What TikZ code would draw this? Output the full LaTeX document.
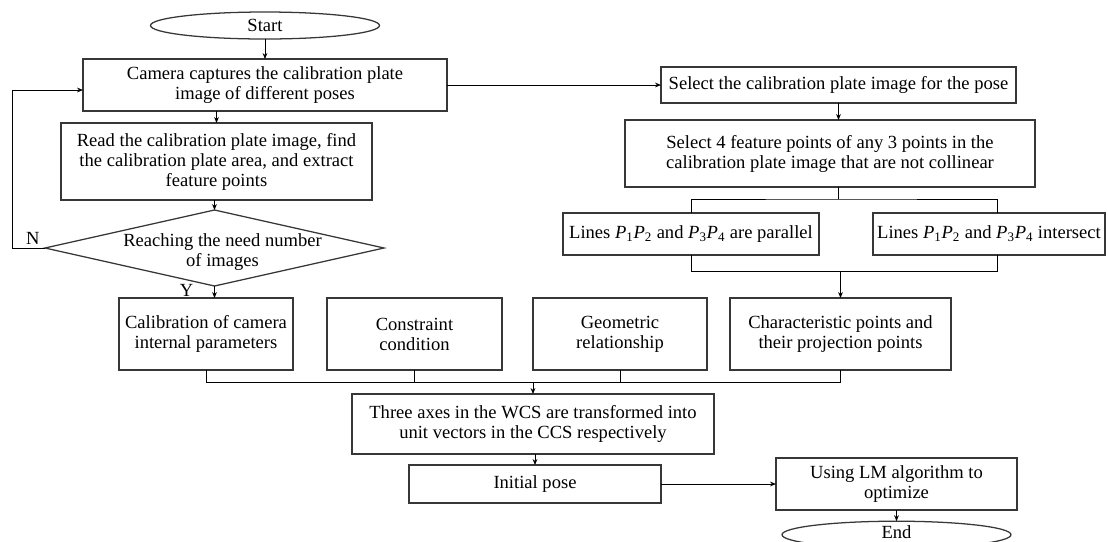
\documentclass[tikz,border=0pt]{standalone}
\usepackage{fontspec}
\setmainfont{Liberation Serif}
\usepackage{tikz}
\usetikzlibrary{arrows.meta}
\usetikzlibrary{positioning}
\usetikzlibrary{shapes.geometric}
\usepackage{xcolor}
\definecolor{boxgray}{RGB}{55,55,55}

\begin{document}
\begin{tikzpicture}[font=\fontsize{13.2}{14.2}\selectfont]
	
		\tikzstyle{block} = [rectangle, draw=boxgray, line width=0.9pt, fill=white, text centered, align=center, inner sep=2pt, outer sep=0pt]
		\tikzstyle{terminal} = [ellipse, draw=boxgray, line width=0.9pt, minimum width=5.725cm, minimum height=0.675cm, inner sep=0pt, outer sep=0pt]
		\tikzstyle{decision} = [diamond, draw=boxgray, line width=0.9pt, inner sep=0pt, outer sep=0pt]
		\tikzstyle{line} = [draw, line width=0.7pt, -{Stealth[length=1.5mm,width=1.2mm]}]
		\tikzstyle{plain} = [draw, line width=0.7pt]
		
		\useasboundingbox (-6.625,0.6375) rectangle (21.075,-12.8875);
	
		% left column
		\node [terminal] (start) {Start};
		\node [block,below=0.5cm of start.south,minimum width=9.1cm,minimum height=1.3cm] (camera) {Camera captures the calibration plate\\image of different poses};
		\node [block,below=0.3cm of camera.south,xshift=-1.2125cm,minimum width=7.775cm,minimum height=1.925cm] (read) {Read the calibration plate image, find\\the calibration plate area, and extract\\feature points};
		\node [decision,below=0.25cm of read.south,xshift=-0.05cm,minimum width=8.475cm,minimum height=1.9cm,label={[align=center,xshift=0.2cm,yshift=-0.1cm]center:Reaching the need number\\of images}] (reach) {};
		\node [above left=0.09cm and 0.13cm of reach.west,inner sep=0pt] (nlab) {N};
		\node [left=0.525cm of reach.south,yshift=-0.1cm,inner sep=0pt] (ylab) {Y};
		
		% right column
		\node [block,right=5.35cm of camera.east,minimum width=8.875cm,minimum height=0.9cm] (select) {Select the calibration plate image for the pose};
		\node [block,below=0.425cm of select.south,xshift=-0.2125cm,minimum width=10.25cm,minimum height=1.675cm] (select4) {Select 4 feature points of any 3 points in the\\calibration plate image that are not collinear};
		\node [block,below=0.65cm of select4.south,xshift=-3.475cm,minimum width=6.4cm,minimum height=1.05cm] (parallel) {Lines \textit{P}\textsubscript{1}\textit{P}\textsubscript{2} and \textit{P}\textsubscript{3}\textit{P}\textsubscript{4} are parallel};
		\node [block,right=1.35cm of parallel.east,minimum width=5.8cm,minimum height=1.05cm] (intersect) {Lines \textit{P}\textsubscript{1}\textit{P}\textsubscript{2} and \textit{P}\textsubscript{3}\textit{P}\textsubscript{4} intersect};
		
		% rectangles
		\node [block,below=0.3cm of reach.south,xshift=-0.2125cm,minimum width=4.35cm,minimum height=1.8cm] (calib) {Calibration of camera\\internal parameters};
		\node [block,right=0.85cm of calib.east,minimum width=4.375cm,minimum height=1.8cm] (constraint) {Constraint\\condition};
		\node [block,right=0.775cm of constraint.east,minimum width=4.35cm,minimum height=1.8cm] (geometric) {Geometric\\relationship};
		\node [block,right=0.575cm of geometric.east,minimum width=5.525cm,minimum height=1.8cm] (char) {Characteristic points and\\their projection points};
		
		% bottom
		\node [block,below=0.6cm of geometric.south west,minimum width=9.05cm,minimum height=1.5cm] (axes) {Three axes in the WCS are transformed into\\unit vectors in the CCS respectively};
		\node [block,below=0.275cm of axes.south,xshift=0.05cm,minimum width=6.3cm,minimum height=0.95cm] (init) {Initial pose};
		\node [block,right=2.875cm of init.east,minimum width=6.025cm,minimum height=1.3cm] (lm) {Using LM algorithm to\\optimize};
		\node [terminal,below=0.28cm of lm.south] (end) {\raisebox{3.5pt}{End}};
		
		% Arrow
		\draw [line] (start) -- (camera);
		\draw [line] (read.north |- camera.south) -- (read.north);
		\draw [line] (read.south -| reach.north) -- (reach.north);
		\draw [line] (reach.west) -- ++(-0.825cm,0) |- ([yshift=-0.125cm]camera.west);
		\draw [line] (reach.south) -- (reach.south |- calib.north);
		\draw [line] (camera.east) -- (select.west);
		\draw [line] (select.south) -- (select.south |- select4.north);
		
		\draw [plain] (select.south |- select4.south) -- ++(0,-0.3cm) coordinate (split);
		\draw [plain] (parallel.north) |- (split) -| ([xshift=0.2cm]intersect.north);
		\draw [plain] (parallel.south) -- ++(0,-0.4cm) coordinate (merge) -| ([xshift=0.2cm]intersect.south);
		\draw [line] (merge -| char.north) -- (char.north);
		
		\draw [plain] (calib.south) -- ++(0,-0.3cm) coordinate (bus) -| (char.south);
		\draw [plain] (constraint.south) -- (constraint.south |- bus);
		\draw [plain] (geometric.south) -- (geometric.south |- bus);
		\draw [line] (bus -| axes.north) -- (axes.north);
		\draw [line] (axes.south -| init.north) -- (init.north);
		\draw [line] (init.east) -- (lm.west);
		\draw [line] (lm.south) -- (end.north);
		
\end{tikzpicture}
\end{document}
